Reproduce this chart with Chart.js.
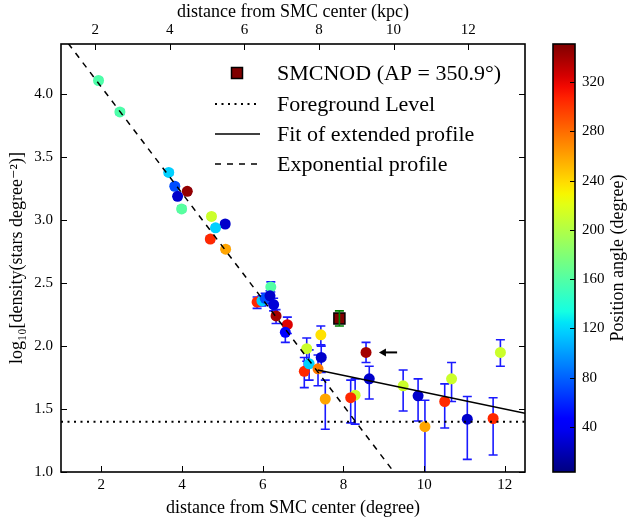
<!DOCTYPE html>
<html>
<head>
<meta charset="utf-8">
<script src="https://cdn.jsdelivr.net/npm/chart.js@4.4.0/dist/chart.umd.min.js"></script>
<style>
  html, body { margin: 0; padding: 0; background: #fff; }
  #wrap { position: relative; width: 628px; height: 520px; }
  #main { position: absolute; left: 0; top: 0; }
  #cbar { position: absolute; left: 540px; top: 0; }
</style>
</head>
<body>
<div id="wrap">
  <canvas id="main" width="540" height="520"></canvas>
  <canvas id="cbar" width="88" height="520"></canvas>
</div>
<script>
(function () {
  'use strict';

  // ── Data ──────────────────────────────────────────────────────────
  var distDeg  = [1.93, 2.46, 3.67, 3.82, 4.13, 3.89, 3.99, 4.73, 5.07, 4.70, 4.83, 5.08,
                  6.20, 5.86, 5.98, 6.06, 6.18, 6.27, 6.33, 6.61, 6.56,
                  7.09, 7.44, 7.45, 7.03, 7.15, 7.37, 7.55,
                  8.56, 8.64, 8.29, 8.18, 9.48, 9.85, 10.02, 10.51, 10.68, 11.07, 11.71, 11.89];
  var logDens  = [4.11, 3.86, 3.38, 3.27, 3.23, 3.19, 3.09, 3.03, 2.97, 2.85, 2.94, 2.77,
                  2.47, 2.35, 2.36, 2.38, 2.40, 2.33, 2.24, 2.17, 2.11,
                  1.98, 2.09, 1.91, 1.80, 1.86, 1.82, 1.58,
                  1.95, 1.74, 1.61, 1.59, 1.685, 1.605, 1.36, 1.56, 1.74, 1.42, 1.425, 1.95];
  var errUp    = [0.02, 0.02, 0.02, 0.02, 0.02, 0.02, 0.02, 0.02, 0.02, 0.02, 0.02, 0.02,
                  0.04, 0.04, 0.04, 0.04, 0.04, 0.05, 0.05, 0.06, 0.07,
                  0.085, 0.07, 0.09, 0.11, 0.11, 0.11, 0.15,
                  0.08, 0.10, 0.13, 0.14, 0.125, 0.135, 0.21, 0.14, 0.13, 0.18, 0.165, 0.10];
  var errDown  = [0.02, 0.02, 0.02, 0.02, 0.02, 0.02, 0.02, 0.02, 0.02, 0.02, 0.02, 0.02,
                  0.04, 0.05, 0.04, 0.04, 0.04, 0.05, 0.06, 0.07, 0.08,
                  0.10, 0.08, 0.12, 0.13, 0.13, 0.135, 0.24,
                  0.08, 0.16, 0.23, 0.20, 0.20, 0.20, 0.50, 0.21, 0.18, 0.32, 0.29, 0.11];
  var posAngle = [158, 158, 118, 73, 345, 26, 162, 211, 26, 305, 118, 259,
                  160, 305, 118, 73, 26, 30, 340, 323, 45,
                  211, 237, 26, 305, 118, 275, 259,
                  340, 26, 211, 305, 211, 26, 259, 305, 211, 26, 305, 211];

  var nodDist = [7.90];
  var nodDens = [2.22];
  var nodErr  = [0.06];
  var nodPA   = 350.9;

  var expX = [1.0, 9.25];     // exponential profile
  var expY = [4.48, 1.0];
  var fitX = [7.36, 12.5];    // fit of extended profile
  var fitY = [1.81, 1.466];
  var fgX  = [1.0, 12.5];     // foreground level
  var fgY  = [1.40, 1.40];

  var arrowTail = [9.33, 1.95];
  var arrowHead = [8.88, 1.95];

  var degTicks = [2, 4, 6, 8, 10, 12];
  var kpcTicks = [2, 4, 6, 8, 10, 12];
  var yTicks   = [1.0, 1.5, 2.0, 2.5, 3.0, 3.5, 4.0];
  var cbTicks  = [40, 80, 120, 160, 200, 240, 280, 320];

  var xMin = 1.0, xMax = 12.5, yMin = 1.0, yMax = 4.4;
  var kpcPerDeg = 1.082;
  var cbMin = 3.5, cbMax = 350.9;

  // ── Jet colormap ──────────────────────────────────────────────────
  var jetR = [[0, 0], [0.35, 0], [0.66, 1], [0.89, 1], [1, 0.5]];
  var jetG = [[0, 0], [0.125, 0], [0.375, 1], [0.64, 1], [0.91, 0], [1, 0]];
  var jetB = [[0, 0.5], [0.11, 1], [0.34, 1], [0.65, 0], [1, 0]];

  function interp(seg, t) {
    for (var i = 1; i < seg.length; i++) {
      if (t <= seg[i][0]) {
        var a = seg[i - 1], b = seg[i];
        return a[1] + (b[1] - a[1]) * (t - a[0]) / (b[0] - a[0]);
      }
    }
    return seg[seg.length - 1][1];
  }
  function jet(t) {
    t = Math.max(0, Math.min(1, t));
    return 'rgb(' + Math.round(255 * interp(jetR, t)) + ',' +
      Math.round(255 * interp(jetG, t)) + ',' + Math.round(255 * interp(jetB, t)) + ')';
  }
  function paColor(pa) { return jet((pa - cbMin) / (cbMax - cbMin)); }

  var FONT = '"Liberation Serif", "DejaVu Serif", serif';

  function fixTicks(list) {
    return function (scale) { scale.ticks = list.map(function (v) { return { value: v }; }); };
  }

  // ── Error bars, behind the markers ────────────────────────────────
  var errorBars = {
    id: 'errorBars',
    beforeDatasetsDraw: function (chart) {
      var ctx = chart.ctx, xs = chart.scales.x, ys = chart.scales.y, a = chart.chartArea;
      ctx.save();
      ctx.beginPath();
      ctx.rect(a.left, a.top, a.right - a.left, a.bottom - a.top);
      ctx.clip();
      ctx.strokeStyle = '#1a1aff';
      ctx.lineWidth = 1.6;
      distDeg.forEach(function (d, i) {
        var px = xs.getPixelForValue(d);
        var t = ys.getPixelForValue(logDens[i] + errUp[i]);
        var b = ys.getPixelForValue(logDens[i] - errDown[i]);
        ctx.beginPath();
        ctx.moveTo(px, t); ctx.lineTo(px, b);
        ctx.moveTo(px - 4.5, t); ctx.lineTo(px + 4.5, t);
        ctx.moveTo(px - 4.5, b); ctx.lineTo(px + 4.5, b);
        ctx.stroke();
      });
      ctx.restore();
    },
    afterDatasetsDraw: function (chart) {
      var ctx = chart.ctx, xs = chart.scales.x, ys = chart.scales.y;
      ctx.save();
      ctx.strokeStyle = '#008000';
      ctx.lineWidth = 1.6;
      nodDist.forEach(function (d, i) {
        var px = xs.getPixelForValue(d);
        var t = ys.getPixelForValue(nodDens[i] + nodErr[i]);
        var b = ys.getPixelForValue(nodDens[i] - nodErr[i]);
        ctx.beginPath();
        ctx.moveTo(px, t); ctx.lineTo(px, b);
        ctx.moveTo(px - 4.5, t); ctx.lineTo(px + 4.5, t);
        ctx.moveTo(px - 4.5, b); ctx.lineTo(px + 4.5, b);
        ctx.stroke();
      });
      // arrow pointing at the SMCNOD-direction point
      var x0 = xs.getPixelForValue(arrowTail[0]), y0 = ys.getPixelForValue(arrowTail[1]);
      var x1 = xs.getPixelForValue(arrowHead[0]), y1 = ys.getPixelForValue(arrowHead[1]);
      ctx.strokeStyle = '#000';
      ctx.fillStyle = '#000';
      ctx.lineWidth = 2;
      ctx.beginPath();
      ctx.moveTo(x0, y0); ctx.lineTo(x1 + 5, y1);
      ctx.stroke();
      ctx.beginPath();
      ctx.moveTo(x1, y1); ctx.lineTo(x1 + 7, y1 - 4); ctx.lineTo(x1 + 7, y1 + 4);
      ctx.closePath();
      ctx.fill();
      ctx.restore();
    }
  };

  // ── Frame, inward ticks and legend ────────────────────────────────
  var frame = {
    id: 'frame',
    afterDraw: function (chart) {
      var ctx = chart.ctx, a = chart.chartArea;
      var xs = chart.scales.x, x2 = chart.scales.x2, ys = chart.scales.y;
      ctx.save();
      ctx.strokeStyle = '#000';
      ctx.lineWidth = 1;
      ctx.beginPath();
      degTicks.forEach(function (v) {
        var p = Math.round(xs.getPixelForValue(v)) + 0.5;
        ctx.moveTo(p, a.bottom); ctx.lineTo(p, a.bottom - 6);
      });
      kpcTicks.forEach(function (v) {
        var p = Math.round(x2.getPixelForValue(v)) + 0.5;
        ctx.moveTo(p, a.top); ctx.lineTo(p, a.top + 6);
      });
      yTicks.forEach(function (v) {
        var p = Math.round(ys.getPixelForValue(v)) + 0.5;
        ctx.moveTo(a.left, p); ctx.lineTo(a.left + 6, p);
        ctx.moveTo(a.right, p); ctx.lineTo(a.right - 6, p);
      });
      ctx.stroke();
      ctx.lineWidth = 1.6;
      ctx.strokeRect(a.left, a.top, a.right - a.left, a.bottom - a.top);

      // legend
      var rows = [73, 104, 134, 164];
      var labels = ['SMCNOD (AP = 350.9\u00b0)', 'Foreground Level', 'Fit of extended profile', 'Exponential profile'];
      var sx0 = 215, sx1 = 260, tx = 277;
      ctx.fillStyle = paColor(nodPA);
      ctx.fillRect(231.5, rows[0] - 5.5, 11, 11);
      ctx.lineWidth = 1.5;
      ctx.strokeRect(231.5, rows[0] - 5.5, 11, 11);
      ctx.lineWidth = 2;
      ctx.setLineDash([2, 4.5]);
      ctx.beginPath(); ctx.moveTo(sx0, rows[1]); ctx.lineTo(sx1, rows[1]); ctx.stroke();
      ctx.lineWidth = 1.5;
      ctx.setLineDash([]);
      ctx.beginPath(); ctx.moveTo(sx0, rows[2]); ctx.lineTo(sx1, rows[2]); ctx.stroke();
      ctx.setLineDash([6, 6]);
      ctx.beginPath(); ctx.moveTo(sx0, rows[3]); ctx.lineTo(sx1 + 2, rows[3]); ctx.stroke();
      ctx.setLineDash([]);
      ctx.fillStyle = '#000';
      ctx.font = '22px ' + FONT;
      ctx.textBaseline = 'middle';
      ctx.textAlign = 'left';
      labels.forEach(function (t, i) { ctx.fillText(t, tx, rows[i] + 1); });
      ctx.restore();
    }
  };

  var lineDs = function (xs, ys, dash, width) {
    return {
      data: xs.map(function (x, i) { return { x: x, y: ys[i] }; }),
      showLine: true, pointRadius: 0, borderColor: '#000', borderWidth: width,
      borderDash: dash, fill: false
    };
  };

  new Chart(document.getElementById('main'), {
    type: 'scatter',
    data: {
      datasets: [
        lineDs(expX, expY, [6, 6], 1.5),
        lineDs(fitX, fitY, [], 1.5),
        lineDs(fgX, fgY, [2, 4.5], 2),
        {
          data: nodDist.map(function (d, i) { return { x: d, y: nodDens[i] }; }),
          pointStyle: 'rect', pointRadius: 7.8, pointBorderWidth: 1.5,
          pointBorderColor: '#000', pointBackgroundColor: paColor(nodPA)
        },
        {
          data: distDeg.map(function (d, i) { return { x: d, y: logDens[i] }; }),
          pointRadius: 5.5, pointBorderWidth: 0,
          pointBackgroundColor: posAngle.map(paColor),
          pointBorderColor: posAngle.map(paColor)
        }
      ]
    },
    options: {
      responsive: false,
      animation: false,
      events: [],
      layout: { padding: { left: 0, right: 15, top: 0, bottom: 0 } },
      plugins: { legend: { display: false }, tooltip: { enabled: false } },
      scales: {
        x: {
          type: 'linear', position: 'bottom', min: xMin, max: xMax,
          grid: { display: false, drawTicks: false }, border: { display: false },
          afterBuildTicks: fixTicks(degTicks),
          ticks: { color: '#000', font: { family: FONT, size: 15 }, padding: 4, maxRotation: 0 },
          title: { display: true, text: 'distance from SMC center (degree)', color: '#000',
                   font: { family: FONT, size: 18 }, padding: { top: 0, bottom: 1 } },
          afterFit: function (s) { s.height = 48; }
        },
        x2: {
          type: 'linear', position: 'top', display: true,
          min: xMin * kpcPerDeg, max: xMax * kpcPerDeg,
          grid: { display: false, drawTicks: false }, border: { display: false },
          afterBuildTicks: fixTicks(kpcTicks),
          ticks: { color: '#000', font: { family: FONT, size: 15 }, padding: 5, maxRotation: 0 },
          title: { display: true, text: 'distance from SMC center (kpc)', color: '#000',
                   font: { family: FONT, size: 18 }, padding: { top: 1, bottom: 0 } },
          afterFit: function (s) { s.height = 44; }
        },
        y: {
          type: 'linear', position: 'left', min: yMin, max: yMax,
          grid: { display: false, drawTicks: false }, border: { display: false },
          afterBuildTicks: fixTicks(yTicks),
          ticks: { color: '#000', font: { family: FONT, size: 15 }, padding: 8,
                   callback: function (v) { return Number(v).toFixed(1); } },
          title: { display: true, text: 'log\u2081\u2080[density(stars degree\u207b\u00b2)]', color: '#000',
                   font: { family: FONT, size: 18 }, padding: { top: 6, bottom: 0 } },
          afterFit: function (s) { s.width = 61; }
        }
      }
    },
    plugins: [errorBars, frame]
  });

  // ── Colorbar ──────────────────────────────────────────────────────
  var cbDecor = {
    id: 'cbDecor',
    afterDraw: function (chart) {
      var ctx = chart.ctx, a = chart.chartArea, ys = chart.scales.y;
      ctx.save();
      ctx.strokeStyle = '#000';
      ctx.lineWidth = 1;
      ctx.beginPath();
      cbTicks.forEach(function (v) {
        var p = Math.round(ys.getPixelForValue(v)) + 0.5;
        ctx.moveTo(a.right, p); ctx.lineTo(a.right - 5, p);
      });
      ctx.stroke();
      ctx.lineWidth = 1.6;
      ctx.strokeRect(a.left, a.top, a.right - a.left, a.bottom - a.top);
      ctx.translate(78, (a.top + a.bottom) / 2);
      ctx.rotate(-Math.PI / 2);
      ctx.fillStyle = '#000';
      ctx.font = '18px ' + FONT;
      ctx.textAlign = 'center';
      ctx.textBaseline = 'middle';
      ctx.fillText('Position angle (degree)', 0, 0);
      ctx.restore();
    }
  };

  new Chart(document.getElementById('cbar'), {
    type: 'bar',
    data: {
      labels: [''],
      datasets: [{
        data: [[cbMin, cbMax]],
        backgroundColor: function (c) {
          var a = c.chart.chartArea;
          if (!a) return '#000';
          var g = c.chart.ctx.createLinearGradient(0, a.bottom, 0, a.top);
          for (var i = 0; i <= 40; i++) g.addColorStop(i / 40, jet(i / 40));
          return g;
        },
        borderWidth: 0,
        barPercentage: 1, categoryPercentage: 1
      }]
    },
    options: {
      responsive: false,
      animation: false,
      events: [],
      layout: { padding: { left: 13, right: 0, top: 44, bottom: 48 } },
      plugins: { legend: { display: false }, tooltip: { enabled: false } },
      scales: {
        x: { display: false },
        y: {
          position: 'right', min: cbMin, max: cbMax,
          grid: { display: false, drawTicks: false }, border: { display: false },
          afterBuildTicks: fixTicks(cbTicks),
          ticks: { color: '#000', font: { family: FONT, size: 15 }, padding: 7 },
          afterFit: function (s) { s.width = 53; }
        }
      }
    },
    plugins: [cbDecor]
  });
})();
</script>
</body>
</html>
